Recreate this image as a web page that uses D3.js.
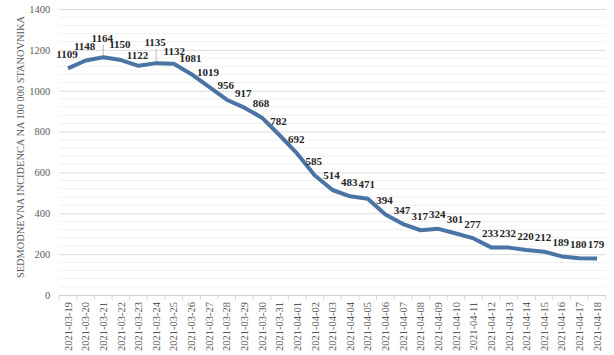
<!DOCTYPE html>
<html>
<head>
<meta charset="utf-8">
<script src="https://cdn.jsdelivr.net/npm/d3@7"></script>
<style>
  html, body { margin: 0; padding: 0; background: #fff; }
  svg { display: block; }
</style>
</head>
<body>
<svg id="chart" width="614" height="355"></svg>
<script>
const categories = [
  "2021-03-19","2021-03-20","2021-03-21","2021-03-22","2021-03-23","2021-03-24","2021-03-25",
  "2021-03-26","2021-03-27","2021-03-28","2021-03-29","2021-03-30","2021-03-31","2021-04-01",
  "2021-04-02","2021-04-03","2021-04-04","2021-04-05","2021-04-06","2021-04-07","2021-04-08",
  "2021-04-09","2021-04-10","2021-04-11","2021-04-12","2021-04-13","2021-04-14","2021-04-15",
  "2021-04-16","2021-04-17","2021-04-18"
];
const values = [1109,1148,1164,1150,1122,1135,1132,1081,1019,956,917,868,782,692,585,514,483,471,394,347,317,324,301,277,233,232,220,212,189,180,179];
const yTicks = [0,200,400,600,800,1000,1200,1400];
const yTitle = "SEDMODNEVNA INCIDENCA NA 100 000 STANOVNIKA";

const svg = d3.select("#chart");
const mLeft = 59.2, mRight = 605.8, mTop = 9, mBottom = 295;
const serif = "'Liberation Serif', 'Times New Roman', serif";

const x = d3.scaleBand().domain(categories).range([mLeft, mRight]).padding(0);
const y = d3.scaleLinear().domain([0, 1400]).range([mBottom, mTop]);
const cx = d => x(d) + x.bandwidth() / 2;

// minor gridlines every 40
const minor = d3.range(0, 1401, 40).filter(v => v % 200 !== 0);
svg.append("g").selectAll("line").data(minor).join("line")
  .attr("x1", mLeft).attr("x2", mRight)
  .attr("y1", d => y(d)).attr("y2", d => y(d))
  .attr("stroke", "#f0f0f0").attr("stroke-width", 1);

// major gridlines via axis
const yAxis = svg.append("g").attr("transform", `translate(${mLeft},0)`)
  .call(d3.axisLeft(y).tickValues(yTicks).tickFormat(d3.format("d"))
    .tickSize(-(mRight - mLeft)).tickPadding(9));
yAxis.select(".domain").remove();
yAxis.selectAll(".tick line").attr("stroke", d => d === 0 ? "#d0d0d0" : "#dcdcdc");
yAxis.selectAll(".tick text")
  .attr("font-family", serif).attr("font-size", "10.5px").attr("fill", "#595959");

// x axis
const xAxis = svg.append("g").attr("transform", `translate(0,${mBottom})`)
  .call(d3.axisBottom(x).tickSize(0).tickPadding(0));
xAxis.select(".domain").remove();
xAxis.selectAll(".tick text")
  .attr("font-family", serif).attr("font-size", "10.5px").attr("fill", "#595959")
  .attr("text-anchor", "end")
  .attr("transform", "translate(0,7) rotate(-90)")
  .attr("x", 0).attr("y", 0).attr("dy", "0.35em");

// tick marks at category boundaries
const bounds = categories.map(c => x(c)).concat([mRight]);
svg.append("g").selectAll("line").data(bounds).join("line")
  .attr("x1", d => d).attr("x2", d => d)
  .attr("y1", mBottom).attr("y2", mBottom + 5)
  .attr("stroke", "#d9d9d9").attr("stroke-width", 1);

// y title
svg.append("text")
  .attr("transform", "translate(20,147) rotate(-90)")
  .attr("text-anchor", "middle").attr("dy", "0.35em")
  .attr("font-family", serif).attr("font-size", "10.4px").attr("fill", "#595959")
  .text(yTitle);

// line
const line = d3.line().x((d, i) => cx(categories[i])).y(d => y(d));
svg.append("path").datum(values)
  .attr("d", line)
  .attr("fill", "none").attr("stroke", "#4a74a3")
  .attr("stroke-width", 4).attr("stroke-linejoin", "round").attr("stroke-linecap", "butt");

// data labels
const raised = { 2: 15, 5: 17 };
const offsetOverride = { 4: 7, 3: 12, 6: 9, 7: 12 };
const dxOverride = { 6: 1.5 };
const labelsG = svg.append("g");
values.forEach((v, i) => {
  const px = cx(categories[i]);
  const py = y(v);
  const off = raised[i] || offsetOverride[i] || 10.5;
  if (raised[i]) {
    labelsG.append("line")
      .attr("x1", px).attr("x2", px)
      .attr("y1", py - off + 3).attr("y2", py - 2)
      .attr("stroke", "#a6a6a6").attr("stroke-width", 0.8);
  }
  labelsG.append("text")
    .attr("x", px - 1 + (dxOverride[i] || 0)).attr("y", py - off)
    .attr("text-anchor", "middle")
    .attr("font-family", serif).attr("font-size", "11px").attr("font-weight", "bold")
    .attr("fill", "#262626")
    .text(v);
});
</script>
</body>
</html>
